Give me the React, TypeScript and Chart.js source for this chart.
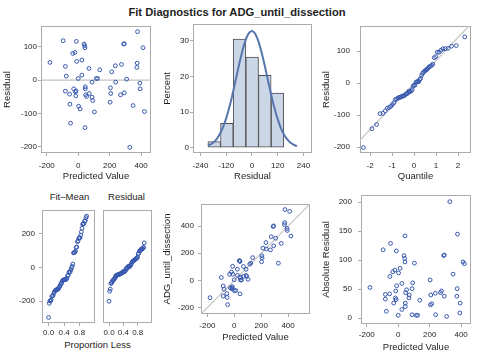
import React, { useEffect, useRef } from "react";
import { Chart, registerables } from "chart.js";
Chart.register(...registerables);

// ---- data ----
const predicted = [-180, -96, -82, -76, -82, -53, -49, -55, -35, -21, -29, -12, -10, -18, -16, -14, 0, 2, 12, 23, 23, 37, 41, 43, 45, 45, 47, 53, 43, 68, 70, 88, 88, 92, 103, 115, 123, 137, 205, 207, 203, 213, 236, 238, 269, 275, 289, 293, 293, 308, 328, 349, 375, 373, 377, 392, 394, 412, 421];
const residual = [53, 118, 41, 12, -33, -72, -129, -42, 80, 83, -26, 116, 56, -35, -47, -32, 5, -78, -86, 60, 15, 108, 103, 97, -20, -26, -44, -49, -142, 35, -40, -6, -51, -61, -95, 5, 5, 31, -23, -40, -66, 25, 43, -6, -44, 47, 108, 109, -38, 3, -201, -76, 51, 38, 145, -9, -26, 97, -94];
const histMidpoints = [-176, -117, -58, 1, 60, 119];
const histPercent = [1.7, 6.8, 30.5, 25.4, 20.3, 15.3];
const histBinWidth = 59;

const predTicks = [-200, 0, 200, 400];
const residTicks = [-200, -100, 0, 100];
const histXTicks = [-240, -120, 0, 120, 240];
const percentTicks = [0, 10, 20, 30];
const quantileTicks = [-2, -1, 0, 1, 2];
const propTicks = [0, 0.4, 0.8];
const spreadTicks = [-200, 0, 200];
const obsTicks = [-200, 0, 200, 400];
const absTicks = [0, 50, 100, 150, 200];

// axis ranges
const predRange = [-237, 463];
const residRange = [-218, 162];
const histRange = [-275, 280];
const percentRange = [-1.5, 34.7];
const qRange = [-2.46, 2.59];
const qResidRange = [-218, 179];
const propRange = [-0.17, 1.2];
const spreadRange = [-330, 340];
const obsRange = [-247, 563];
const absRange = [-10, 212.5];

// ---- derived tables ----
const n = residual.length;
const mean = (a: number[]) => a.reduce((s, v) => s + v, 0) / a.length;
const meanRes = mean(residual);
const sdRes = Math.sqrt(residual.reduce((s, v) => s + (v - meanRes) ** 2, 0) / (n - 1));
const meanPred = mean(predicted);

function normInv(p: number): number {
  const a = [-3.969683028665376e1, 2.209460984245205e2, -2.759285104469687e2, 1.38357751867269e2, -3.066479806614716e1, 2.506628277459239];
  const b = [-5.447609879822406e1, 1.615858368580409e2, -1.556989798598866e2, 6.680131188771972e1, -1.328068155288572e1];
  const c = [-7.784894002430293e-3, -3.223964580411365e-1, -2.400758277161838, -2.549732539343734, 4.374664141464968, 2.938163982698783];
  const d = [7.784695709041462e-3, 3.224671290700398e-1, 2.445134137142996, 3.754408661907416];
  const pl = 0.02425;
  if (p < pl) {
    const q = Math.sqrt(-2 * Math.log(p));
    return (((((c[0] * q + c[1]) * q + c[2]) * q + c[3]) * q + c[4]) * q + c[5]) / ((((d[0] * q + d[1]) * q + d[2]) * q + d[3]) * q + 1);
  }
  if (p > 1 - pl) {
    const q = Math.sqrt(-2 * Math.log(1 - p));
    return -(((((c[0] * q + c[1]) * q + c[2]) * q + c[3]) * q + c[4]) * q + c[5]) / ((((d[0] * q + d[1]) * q + d[2]) * q + d[3]) * q + 1);
  }
  const q = p - 0.5;
  const r = q * q;
  return (((((a[0] * r + a[1]) * r + a[2]) * r + a[3]) * r + a[4]) * r + a[5]) * q / (((((b[0] * r + b[1]) * r + b[2]) * r + b[3]) * r + b[4]) * r + 1);
}

const residSorted = [...residual].sort((a, b) => a - b);
const fitMeanSorted = predicted.map((p) => p - meanPred).sort((a, b) => a - b);

const residVsPred = predicted.map((p, i) => ({ x: p, y: residual[i] }));
const absVsPred = predicted.map((p, i) => ({ x: p, y: Math.abs(residual[i]) }));
const obsVsPred = predicted.map((p, i) => ({ x: p, y: p + residual[i] }));
const qqPoints = residSorted.map((r, i) => ({ x: normInv((i + 1 - 0.375) / (n + 0.25)), y: r }));
const fitMeanPoints = fitMeanSorted.map((v, i) => ({ x: i / n, y: v }));
const residSpreadPoints = residSorted.map((v, i) => ({ x: i / n, y: v }));
const histData = histMidpoints.map((m, i) => ({ x: m, y: histPercent[i] }));
const densityX: number[] = [];
for (let x = -205; x <= 210; x += 5) densityX.push(x);
const densityData = densityX.map((x) => ({
  x,
  y: (100 * histBinWidth * Math.exp(-0.5 * ((x - meanRes) / sdRes) ** 2)) / (sdRes * Math.sqrt(2 * Math.PI)),
}));

// ---- styling ----
const FONT = "'Liberation Sans', Arial, Helvetica, sans-serif";
const BLUE = "#3556ad";
const GRAY = "#ababab";
const REF = "#c2c2c2";
const TXT = "#1e1e1e";
const TICK_SIZE = 8;
const TITLE_SIZE = 9.5;

const boxPlugin = {
  id: "box",
  beforeDatasetsDraw(chart: any) {
    const { ctx, chartArea } = chart;
    const { left, top, right, bottom } = chartArea;
    ctx.save();
    ctx.strokeStyle = GRAY;
    ctx.lineWidth = 1;
    ctx.strokeRect(left + 0.5, top + 0.5, right - left - 1, bottom - top - 1);
    ctx.restore();
  },
};

function axisCfg(o: {
  range: number[];
  ticks: number[];
  title?: string;
  fmt?: (v: number) => string;
  tickPad: number;
  size: number;
  horizontal: boolean;
  hidden?: boolean;
}) {
  return {
    type: "linear",
    min: o.range[0],
    max: o.range[1],
    offset: false,
    grid: {
      display: !o.hidden,
      drawOnChartArea: false,
      drawTicks: true,
      tickLength: 3,
      color: GRAY,
      lineWidth: 1,
      offset: false,
    },
    border: { display: false },
    ticks: {
      display: !o.hidden,
      autoSkip: false,
      maxRotation: 0,
      minRotation: 0,
      padding: o.tickPad,
      color: TXT,
      font: { family: FONT, size: TICK_SIZE },
      callback: (v: number) => (o.fmt ? o.fmt(v) : String(v)),
    },
    title: o.title
      ? { display: true, text: o.title, color: TXT, font: { family: FONT, size: TITLE_SIZE }, padding: 0 }
      : { display: false },
    afterBuildTicks: (s: any) => {
      s.ticks = o.ticks.map((v) => ({ value: v }));
    },
    afterFit: (s: any) => {
      if (o.horizontal) s.height = o.size;
      else s.width = o.size;
      s.paddingLeft = 0;
      s.paddingRight = 0;
      s.paddingTop = 0;
      s.paddingBottom = 0;
    },
  };
}

const pointsDs = (data: any[]) => ({
  type: "scatter",
  data,
  showLine: false,
  pointRadius: 1.9,
  pointBorderWidth: 1,
  pointBackgroundColor: "rgba(0,0,0,0)",
  pointBorderColor: BLUE,
  borderColor: BLUE,
  order: 1,
});

const refLineDs = (data: any[]) => ({
  type: "line",
  data,
  borderColor: REF,
  borderWidth: 1.2,
  pointRadius: 0,
  fill: false,
  tension: 0,
  order: 2,
});

interface Geo {
  x: number;
  y: number;
  w: number;
  h: number;
  yAxisW: number;
  xAxisH: number;
}
function geom(boxL: number, boxT: number, boxR: number, boxB: number, canvasLeft: number, canvasBottom: number): Geo {
  const padTop = 3;
  const padRight = 3;
  return {
    x: canvasLeft,
    y: boxT - padTop,
    w: boxR - canvasLeft + padRight,
    h: canvasBottom - (boxT - padTop),
    yAxisW: boxL - canvasLeft,
    xAxisH: canvasBottom - boxB,
  };
}

function baseOptions(g: Geo, x: any, y: any) {
  return {
    animation: false,
    responsive: false,
    maintainAspectRatio: false,
    events: [],
    layout: { padding: { top: 3, right: 3, left: 0, bottom: 0 } },
    plugins: { legend: { display: false }, tooltip: { enabled: false }, title: { display: false } },
    scales: { x, y },
  };
}

function scatterPanel(
  g: Geo,
  datasets: any[],
  xa: { range: number[]; ticks: number[]; title?: string; tickPad: number; fmt?: (v: number) => string },
  ya: { range: number[]; ticks: number[]; title?: string; tickPad: number; hidden?: boolean }
) {
  return {
    geo: g,
    config: {
      type: "scatter",
      data: { datasets },
      options: baseOptions(
        g,
        axisCfg({ ...xa, size: g.xAxisH, horizontal: true }),
        axisCfg({ ...ya, size: g.yAxisW, horizontal: false })
      ),
      plugins: [boxPlugin],
    },
  };
}

// ---- panels ----
const g1 = geom(41, 24, 153, 153, 2, 182);
const panel1 = scatterPanel(
  g1,
  [pointsDs(residVsPred), refLineDs([{ x: predRange[0], y: 0 }, { x: predRange[1], y: 0 }])],
  { range: predRange, ticks: predTicks, title: "Predicted Value", tickPad: 5 },
  { range: residRange, ticks: residTicks, title: "Residual", tickPad: 1 }
);

const g2 = geom(193, 24, 312, 153, 162, 182);
const panel2 = {
  geo: g2,
  config: {
    type: "bar",
    data: {
      datasets: [
        {
          type: "line",
          data: densityData,
          borderColor: "#5776ae",
          borderWidth: 2,
          pointRadius: 0,
          fill: false,
          tension: 0.3,
          order: 0,
        },
        {
          type: "bar",
          data: histData,
          backgroundColor: "#cbd6e6",
          borderColor: "#4d4d4d",
          borderWidth: 1,
          borderSkipped: false,
          barPercentage: 1,
          categoryPercentage: 1,
          order: 1,
        },
      ],
    },
    options: baseOptions(
      g2,
      axisCfg({ range: histRange, ticks: histXTicks, title: "Residual", tickPad: 5, size: g2.xAxisH, horizontal: true }),
      axisCfg({ range: percentRange, ticks: percentTicks, title: "Percent", tickPad: 1, size: g2.yAxisW, horizontal: false })
    ),
    plugins: [boxPlugin],
  },
};

const g3 = geom(360, 24, 473, 153, 321, 182);
const panel3 = scatterPanel(
  g3,
  [
    pointsDs(qqPoints),
    refLineDs([
      { x: qRange[0], y: meanRes + sdRes * qRange[0] },
      { x: qRange[1], y: meanRes + sdRes * qRange[1] },
    ]),
  ],
  { range: qRange, ticks: quantileTicks, title: "Quantile", tickPad: 5 },
  { range: qResidRange, ticks: residTicks, title: "Residual", tickPad: 7 }
);

const g4a = geom(42, 208, 97, 323, 12, 338);
const panel4a = scatterPanel(
  g4a,
  [pointsDs(fitMeanPoints)],
  { range: propRange, ticks: propTicks, tickPad: 2, fmt: (v) => v.toFixed(1) },
  { range: spreadRange, ticks: spreadTicks, tickPad: 4 }
);

const g4b = geom(99, 208, 154, 323, 98, 338);
const panel4b = scatterPanel(
  g4b,
  [pointsDs(residSpreadPoints)],
  { range: propRange, ticks: propTicks, tickPad: 2, fmt: (v) => v.toFixed(1) },
  { range: spreadRange, ticks: spreadTicks, tickPad: 4, hidden: true }
);

const g5 = geom(201, 202, 312, 314, 162, 343);
const panel5 = scatterPanel(
  g5,
  [pointsDs(obsVsPred), refLineDs([{ x: obsRange[0], y: obsRange[0] }, { x: obsRange[1], y: obsRange[1] }])],
  { range: obsRange, ticks: predTicks, title: "Predicted Value", tickPad: 4 },
  { range: obsRange, ticks: obsTicks, title: "ADG_until_dissection", tickPad: 4 }
);

const g6 = geom(361, 193, 473, 324, 321, 353);
const panel6 = scatterPanel(
  g6,
  [pointsDs(absVsPred)],
  { range: predRange, ticks: predTicks, title: "Predicted Value", tickPad: 3 },
  { range: absRange, ticks: absTicks, title: "Absolute Residual", tickPad: 6 }
);

const panels = [panel1, panel2, panel3, panel4a, panel4b, panel5, panel6];

function ChartCanvas({ panel }: { panel: { geo: Geo; config: any } }) {
  const ref = useRef<HTMLCanvasElement | null>(null);
  useEffect(() => {
    if (!ref.current) return;
    const chart = new Chart(ref.current, panel.config);
    return () => chart.destroy();
  }, [panel]);
  const g = panel.geo;
  return (
    <canvas
      ref={ref}
      width={g.w}
      height={g.h}
      style={{ position: "absolute", left: g.x, top: g.y, width: g.w, height: g.h }}
    />
  );
}

function Label({ text, x, y, size, bold }: { text: string; x: number; y: number; size: number; bold?: boolean }) {
  return (
    <div
      style={{
        position: "absolute",
        left: x,
        top: y,
        transform: "translate(-50%, -50%)",
        fontFamily: FONT,
        fontSize: size,
        fontWeight: bold ? "bold" : "normal",
        color: TXT,
        whiteSpace: "nowrap",
        lineHeight: 1,
      }}
    >
      {text}
    </div>
  );
}

export default function App() {
  return (
    <div
      style={{
        position: "fixed",
        left: 0,
        top: 0,
        width: 477,
        height: 360,
        background: "#ffffff",
        overflow: "hidden",
      }}
    >
      <Label text="Fit Diagnostics for ADG_until_dissection" x={237} y={12.5} size={11.2} bold />
      <Label text="Fit–Mean" x={69.5} y={197} size={TITLE_SIZE} />
      <Label text="Residual" x={126.5} y={197} size={TITLE_SIZE} />
      <Label text="Proportion Less" x={97.5} y={345} size={TITLE_SIZE} />
      {panels.map((p, i) => (
        <ChartCanvas key={i} panel={p} />
      ))}
    </div>
  );
}
